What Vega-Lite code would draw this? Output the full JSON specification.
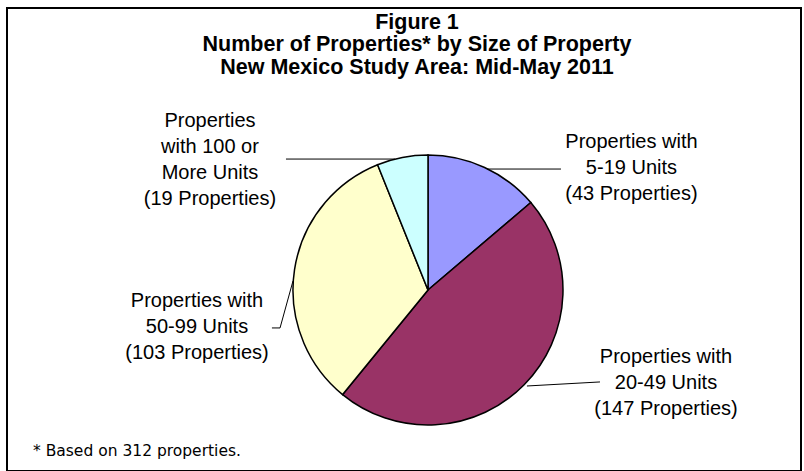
{
  "$schema": "https://vega.github.io/schema/vega-lite/v6.json",
  "width": 794,
  "height": 463,
  "autosize": {"type": "none"},
  "padding": {"left": 7, "top": 8, "right": 3, "bottom": 0},
  "background": "white",
  "config": {"view": {"stroke": "black", "strokeWidth": 2}},
  "title": {
    "text": ["Figure 1", "Number of Properties* by Size of Property", "New Mexico Study Area: Mid-May 2011"],
    "font": "Liberation Sans",
    "fontSize": 21.5,
    "fontWeight": "bold",
    "lineHeight": 22.5,
    "anchor": "middle",
    "frame": "group",
    "baseline": "top",
    "offset": -70,
    "dx": 13,
    "color": "black"
  },
  "datasets": {
    "slices": [
      {"size": "5-19 Units", "count": 43, "rank": 1},
      {"size": "20-49 Units", "count": 147, "rank": 2},
      {"size": "50-99 Units", "count": 103, "rank": 3},
      {"size": "100 or More Units", "count": 19, "rank": 4}
    ],
    "labels": [
      {"text": "Properties with\n5-19 Units\n(43 Properties)", "x": 1.507, "y": 1.096},
      {"text": "Properties with\n20-49 Units\n(147 Properties)", "x": 1.763, "y": -0.496},
      {"text": "Properties with\n50-99 Units\n(103 Properties)", "x": -1.711, "y": -0.081},
      {"text": "Properties\nwith 100 or\nMore Units\n(19 Properties)", "x": -1.615, "y": 1.252}
    ],
    "leaders": [
      {"id": "a", "pt": 1, "x": 0.437, "y": 0.896},
      {"id": "a", "pt": 2, "x": 0.985, "y": 0.896},
      {"id": "b", "pt": 1, "x": 0.733, "y": -0.711},
      {"id": "b", "pt": 2, "x": 1.274, "y": -0.681},
      {"id": "c", "pt": 1, "x": -1.156, "y": -0.281},
      {"id": "c", "pt": 2, "x": -1.096, "y": -0.281},
      {"id": "c", "pt": 3, "x": -1.0, "y": 0.067},
      {"id": "d", "pt": 1, "x": -1.052, "y": 0.970},
      {"id": "d", "pt": 2, "x": -0.244, "y": 0.970}
    ],
    "notes": [
      {"text": "* Based on 312 properties.", "x": -2.926, "y": -1.193}
    ]
  },
  "layer": [
    {
      "data": {"name": "slices"},
      "mark": {"type": "arc", "radius": 135, "stroke": "black", "strokeWidth": 1.5},
      "encoding": {
        "theta": {"field": "count", "type": "quantitative", "stack": true},
        "order": {"field": "rank", "type": "quantitative"},
        "color": {
          "field": "size",
          "type": "nominal",
          "scale": {
            "domain": ["5-19 Units", "20-49 Units", "50-99 Units", "100 or More Units"],
            "range": ["#9999FF", "#993366", "#FFFFCC", "#CCFFFF"]
          },
          "legend": null
        },
        "x": {"datum": 0, "type": "quantitative", "scale": {"domain": [-3.1185, 2.763], "nice": false, "zero": false}, "axis": null},
        "y": {"datum": 0, "type": "quantitative", "scale": {"domain": [-1.3407, 2.0889], "nice": false, "zero": false}, "axis": null}
      }
    },
    {
      "data": {"name": "leaders"},
      "mark": {"type": "line", "stroke": "black", "strokeWidth": 1},
      "encoding": {
        "x": {"field": "x", "type": "quantitative", "axis": null},
        "y": {"field": "y", "type": "quantitative", "axis": null},
        "detail": {"field": "id", "type": "nominal"},
        "order": {"field": "pt", "type": "quantitative"}
      }
    },
    {
      "data": {"name": "labels"},
      "mark": {"type": "text", "font": "Liberation Sans", "fontSize": 20, "lineHeight": 26, "lineBreak": "\n", "align": "center", "baseline": "middle", "color": "black"},
      "encoding": {
        "x": {"field": "x", "type": "quantitative", "axis": null},
        "y": {"field": "y", "type": "quantitative", "axis": null},
        "text": {"field": "text", "type": "nominal"}
      }
    },
    {
      "data": {"name": "notes"},
      "mark": {"type": "text", "font": "DejaVu Sans", "fontSize": 15.5, "align": "left", "baseline": "middle", "color": "black"},
      "encoding": {
        "x": {"field": "x", "type": "quantitative", "axis": null},
        "y": {"field": "y", "type": "quantitative", "axis": null},
        "text": {"field": "text", "type": "nominal"}
      }
    }
  ]
}
